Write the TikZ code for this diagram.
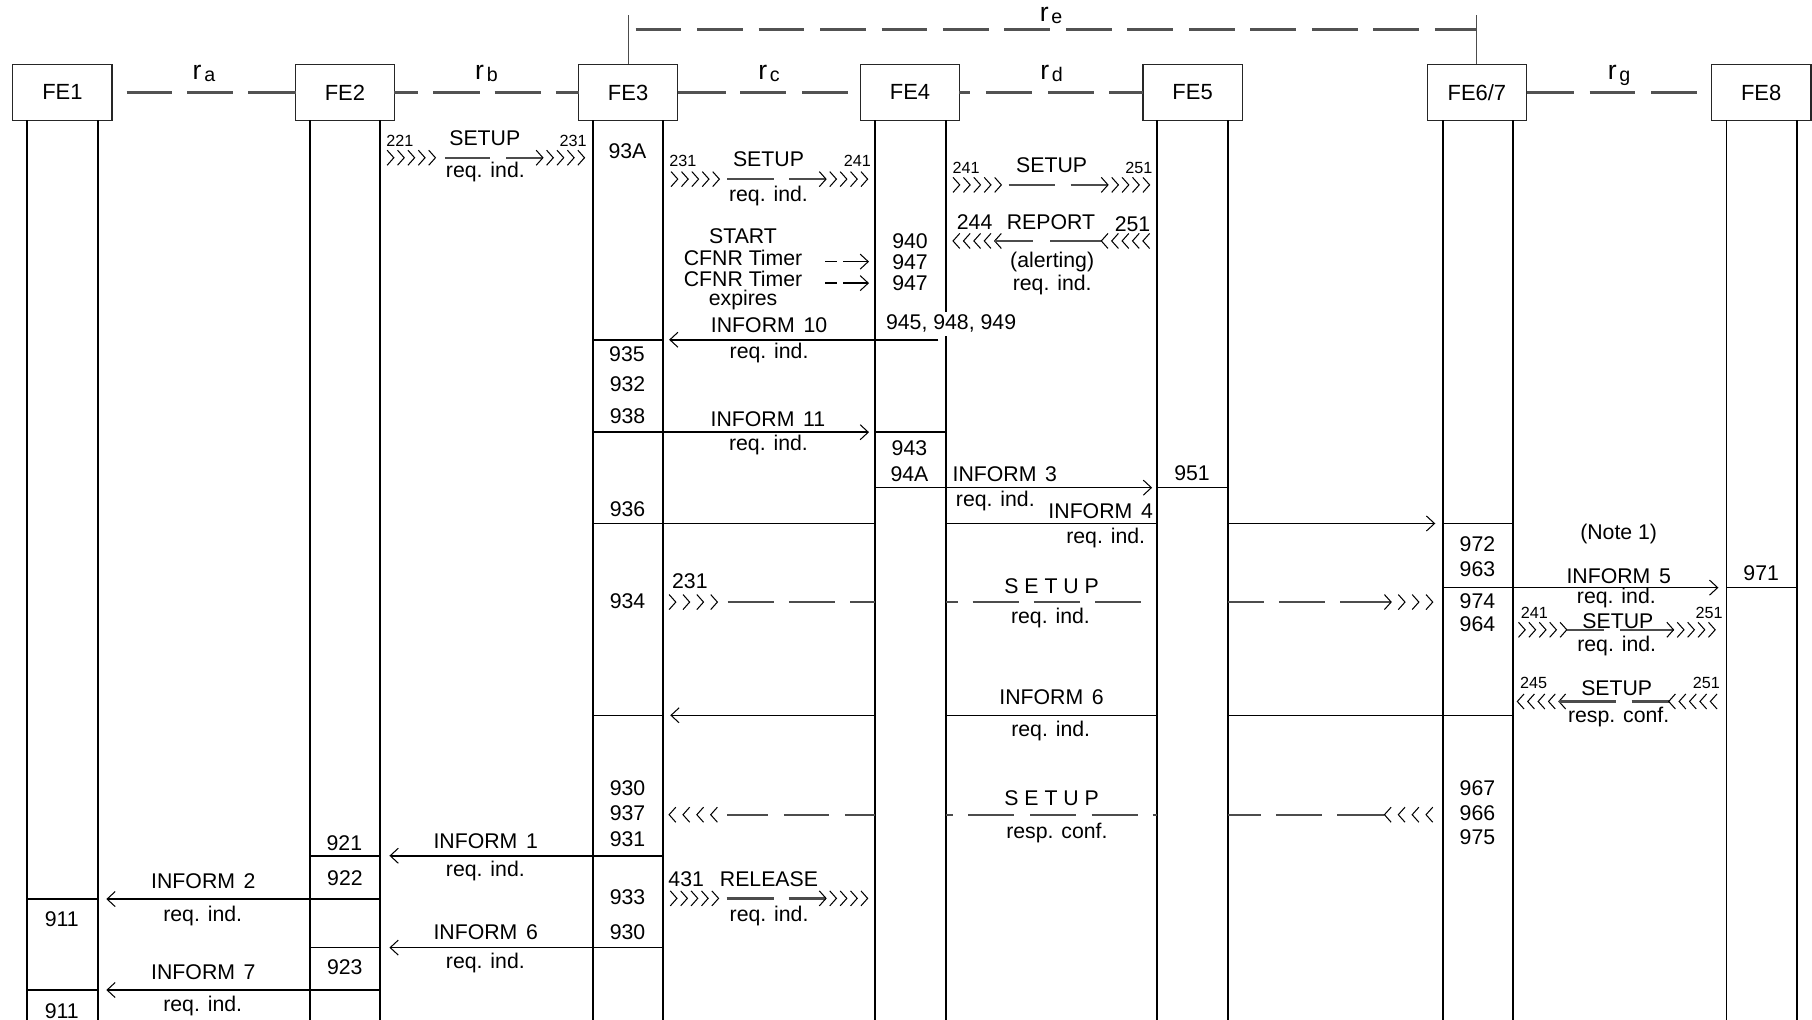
\documentclass[tikz,border=0pt]{standalone}
\usepackage{fontspec}
\setmainfont{Liberation Sans}
\usetikzlibrary{arrows.meta}
\newcommand\fnorm{\fontsize{9.2}{10}\selectfont}
\newcommand\fhead{\fontsize{9.5}{11}\selectfont}
\newcommand\fsm{\fontsize{7}{8}\selectfont}
\newcommand\rlab[1]{{\fontsize{11.5}{12}\selectfont r}\kern1.2pt\raisebox{-1pt}{\fontsize{8.5}{9}\selectfont #1}}
\newcommand\infm[1]{INFORM\kern1.2pt\ #1}
\newcommand\chevR[4]{\foreach \ii in {1,...,#3}{\draw[chev] ({#1+(\ii-1)*#4},{#2-6.5}) -- ({#1+(\ii-1)*#4+5.8},#2) -- ({#1+(\ii-1)*#4},{#2+6.5});}}
\newcommand\chevL[4]{\foreach \ii in {1,...,#3}{\draw[chev] ({#1+(\ii-1)*#4+5.8},{#2-6.5}) -- ({#1+(\ii-1)*#4},#2) -- ({#1+(\ii-1)*#4+5.8},{#2+6.5});}}
\newcommand\dsegs[3][dshm]{\foreach \pa/\pb in {#3}{\draw[#1] (\pa,#2) -- (\pb,#2);}}
\newcommand\colline[2]{\draw[hline] (L#1 |- 0,#2) -- (R#1 |- 0,#2);}
\newcommand\msgl[5][]{\coordinate (#2s) at (#3,#5); \coordinate (#2e) at (#4,#5); \draw[hline,#1] (#2s) -- (#2e);}
\begin{document}
\begin{tikzpicture}[x=0.5pt,y=-0.5pt,
 life/.style={line width=0.8pt},
 hline/.style={line width=0.7pt},
 dshi/.style={line width=1.3pt,draw=black!68},
 dshm/.style={line width=1.05pt,draw=black!70},
 chev/.style={line width=0.45pt},
 arr/.style={-{Straight Barb[length=3.5pt,width=6.5pt,line width=0.45pt]}},
 thinl/.style={line width=0.45pt,draw=black!70},
 hdr/.style={draw=black!85,line width=0.55pt,minimum width=43pt,minimum height=24pt,inner sep=0pt,font=\fhead},
 lbl/.style={inner sep=0pt,anchor=base,font=\fnorm},
 sml/.style={inner sep=0pt,anchor=base,font=\fsm}]
\useasboundingbox (0,0) rectangle (1568,882);
% headers
\node[hdr] (fe1) at (54,80) {FE1};
\node[hdr] (fe2) at (298.5,80) {FE2};
\node[hdr] (fe3) at (543.5,80) {FE3};
\node[hdr] (fe4) at (787.5,80) {FE4};
\node[hdr] (fe5) at (1032,80) {FE5};
\node[hdr] (fe6) at (1278,80) {FE6/7};
\node[hdr] (fe8) at (1524,80) {FE8};
% lifelines
\foreach \n/\c in {1/54,2/298.5,3/543.5,4/788,5/1032,6/1279,8/1524.5}{\coordinate (L\n) at ({\c-30.5},104); \coordinate (R\n) at ({\c+30.5},104);}
\coordinate (bot) at (0,884);
\foreach \n in {1,2,3,4,5,6,8}{\draw[life] (L\n) -- (L\n |- bot); \draw[life] (R\n) -- (R\n |- bot);}
% interfaces
\dsegs[dshi]{80}{109.5/149,162/202,215/256}
\dsegs[dshi]{80}{341/362,375/415,428/468,481/501}
\dsegs[dshi]{80}{587/628,640.7/680,694.4/734}
\dsegs[dshi]{80}{830/839.5,853/893,907/947,960/989}
\dsegs[dshi]{80}{1321/1361.6,1375.6/1415,1428.7/1468.5}
\foreach \k in {0,...,12}{\draw[dshi] ({550+53.2*\k},25.4) -- ({589.5+53.2*\k},25.4);}
\draw[dshi] (1241.6,25.4) -- (1278.5,25.4);
\coordinate (reA) at (543.5,13); \coordinate (reB) at (1278,13);
\draw[thinl] (reA) -- (fe3.north); \draw[thinl] (reB) -- (fe6.north);
\node[lbl] (ra) at (176.5,68.7) {\rlab{a}};
\node[lbl] (rb) at (421,68.7) {\rlab{b}};
\node[lbl] (rc) at (665.5,68.7) {\rlab{c}};
\node[lbl] (rd) at (910,68.7) {\rlab{d}};
\node[lbl] (rg) at (1401,68.7) {\rlab{g}};
\node[lbl] (re) at (909.5,18.7) {\rlab{e}};
% M1 SETUP FE2->FE3
\chevR{335}{136.5}{5}{9}
\dsegs{136.5}{385/424,438/469.8}
\chevR{464}{136.5}{5}{9}
\node[sml] (m1a) at (346,127) {221};
\node[sml] (m1b) at (496,127) {231};
\node[lbl] (m1c) at (419.5,126) {SETUP};
\node[lbl] (m1d) at (420,154) {req. ind.};
% M2 SETUP FE3->FE4
\chevR{580.7}{155}{5}{9}
\dsegs{155}{629.4/670,682.8/714.8}
\chevR{709}{155}{5}{9}
\node[sml] (m2a) at (591,144.2) {231};
\node[sml] (m2b) at (742,144.2) {241};
\node[lbl] (m2c) at (665,143.7) {SETUP};
\node[lbl] (m2d) at (665,174.3) {req. ind.};
% M3 SETUP FE4->FE5
\chevR{824.7}{160}{5}{9}
\dsegs{160}{872.7/912.7,926.4/958.8}
\chevR{953}{160}{5}{9}
\node[sml] (m3a) at (836,150) {241};
\node[sml] (m3b) at (985.5,150) {251};
\node[lbl] (m3c) at (910,149.4) {SETUP};
% M4 REPORT FE5->FE4
\chevL{824.7}{208.5}{5}{9}
\dsegs{208.5}{860.7/894,908.6/953}
\chevL{953}{208.5}{5}{9}
\node[lbl] (m4a) at (843.4,199) {244};
\node[lbl] (m4b) at (909.4,199) {REPORT};
\node[lbl] (m4c) at (980,200.5) {251};
\node[lbl] (m4d) at (910.5,231.5) {(alerting)};
\node[lbl] (m4e) at (910.5,251) {req. ind.};
% timer
\node[lbl] (tm1) at (643,211) {START};
\node[lbl] (tm2) at (643,229.5) {CFNR Timer};
\node[lbl] (tm3) at (643,247.5) {CFNR Timer};
\node[lbl] (tm4) at (643,264) {expires};
\msgl{ta}{714.3}{724.5}{226.4}
\msgl[arr]{tb}{729.7}{752}{226.4}
\msgl{tc}{714.3}{724.5}{245}
\msgl[arr]{td}{729.7}{752}{245}
\node[lbl] (n940) at (787.5,215) {940};
\node[lbl] (n947a) at (787.5,233.6) {947};
\node[lbl] (n947b) at (787.5,251) {947};
\node[lbl,fill=white,inner xsep=1pt,inner ysep=1.5pt] (n945) at (823,285.5) {945, 948, 949};
% INFORM 10
\colline{3}{294}
\msgl[arr]{i10}{812}{579}{294}
\node[lbl] (i10t) at (665.5,288) {\infm{10}};
\node[lbl] (i10r) at (665.5,310) {req. ind.};
\node[lbl] (n93A) at (543,137) {93A};
\node[lbl] (n935) at (542.5,313) {935};
\node[lbl] (n932) at (543,339) {932};
\node[lbl] (n938) at (543,366.3) {938};
% INFORM 11
\colline{3}{374}
\msgl[arr]{i11}{574}{752}{374}
\colline{4}{374}
\node[lbl] (i11t) at (664.5,369) {\infm{11}};
\node[lbl] (i11r) at (665,389.5) {req. ind.};
\node[lbl] (n943) at (787,394) {943};
\node[lbl] (n94A) at (787,416.8) {94A};
% INFORM 3
\colline{4}{422}
\msgl[arr]{i3}{819}{997}{422}
\colline{5}{422}
\node[lbl,anchor=base west] (i3t) at (824,416.8) {\infm{3}};
\node[lbl] (i3r) at (861.3,438.5) {req. ind.};
\node[lbl] (n951) at (1031.5,415.4) {951};
% INFORM 4
\msgl{i4a}{513}{757.5}{453}
\msgl{i4b}{819}{1001.5}{453}
\msgl[arr]{i4c}{1062.5}{1242}{453}
\colline{6}{453}
\node[lbl,anchor=base east] (i4t) at (998,448.5) {\infm{4}};
\node[lbl] (i4r) at (956.8,470) {req. ind.};
\node[lbl] (n936) at (543,447) {936};
% INFORM 5
\colline{6}{508.5}
\msgl[arr]{i5}{1309.5}{1487}{508.5}
\colline{8}{508.5}
\node[lbl] (note) at (1400.7,467) {(Note 1)};
\node[lbl] (i5t) at (1400.7,504.6) {\infm{5}};
\node[lbl] (i5r) at (1398.7,522) {req. ind.};
\node[lbl] (n972) at (1278.5,477.4) {972};
\node[lbl] (n963) at (1278.5,499) {963};
\node[lbl] (n974) at (1278.5,526.4) {974};
\node[lbl] (n964) at (1278.5,546.6) {964};
\node[lbl] (n971) at (1524,502) {971};
% long SETUP req. ind.
\chevR{579}{521}{4}{12}
\dsegs{521}{629.7/669.7,682.7/722.7,735.7/757.5,819/828.7,841.7/881.7,894.7/934.7,947.7/987.7,1062.5/1093.7,1106.7/1146.7,1159.7/1203.8}
\chevR{1198}{521}{4}{12}
\node[lbl] (m11a) at (597,509) {231};
\node[lbl] (m11b) at (910,513.4) {S E T U P};
\node[lbl] (m11c) at (909,539.5) {req. ind.};
\node[lbl] (n934) at (543,526.4) {934};
% SETUP FE6/7->FE8
\chevR{1314}{545}{5}{9}
\dsegs{545}{1355.8/1388,1401.7/1448.2}
\chevR{1442.4}{545}{5}{9}
\node[sml] (m12a) at (1327.7,535) {241};
\node[sml] (m12b) at (1479,535) {251};
\node[lbl] (m12c) at (1400,543.7) {SETUP};
\node[lbl] (m12d) at (1399,564) {req. ind.};
% SETUP FE8->FE6/7
\chevL{1313}{607}{5}{9}
\dsegs{607}{1349/1398,1411.8/1444}
\chevL{1444}{607}{5}{9}
\node[sml] (m13a) at (1327,596) {245};
\node[sml] (m13b) at (1476.5,596) {251};
\node[lbl] (m13c) at (1399,602) {SETUP};
\node[lbl] (m13d) at (1400.7,625.5) {resp. conf.};
% INFORM 6
\colline{3}{619}
\msgl{i6a}{1309.5}{1062.5}{619}
\msgl{i6b}{1001.5}{819}{619}
\msgl[arr]{i6c}{757.5}{580}{619}
\node[lbl] (i6t) at (910,610) {\infm{6}};
\node[lbl] (i6r) at (909.2,637.5) {req. ind.};
% long SETUP resp. conf.
\chevL{579}{705}{4}{12}
\dsegs{705}{629.4/664.6,678.4/717.6,731/757.5,819/824.4,838/877.8,891.5/931,944.6/984.6,997.6/1001.5,1062.5/1091,1104/1143.6,1157.2/1198}
\chevL{1198}{705}{4}{12}
\node[lbl] (m14a) at (910,696.6) {S E T U P};
\node[lbl] (m14b) at (914.6,725.4) {resp. conf.};
\node[lbl] (n930a) at (543,688) {930};
\node[lbl] (n937) at (543,709.6) {937};
\node[lbl] (n931) at (543,732.7) {931};
\node[lbl] (n967) at (1278.5,688) {967};
\node[lbl] (n966) at (1278.5,709.6) {966};
\node[lbl] (n975) at (1278.5,731.2) {975};
% INFORM 1
\colline{3}{740.5}
\msgl[arr]{i1}{513}{337}{740.5}
\colline{2}{740.5}
\node[lbl] (i1t) at (420.3,734) {\infm{1}};
\node[lbl] (i1r) at (420,758.5) {req. ind.};
\node[lbl] (n921) at (298,735.6) {921};
% RELEASE
\chevR{580}{777.4}{5}{9}
\dsegs{777.4}{628.7/670,682.4/714.8}
\chevR{709}{777.4}{5}{9}
\node[lbl] (m15a) at (593.8,767.3) {431};
\node[lbl] (m15b) at (665.4,767) {RELEASE};
\node[lbl] (m15c) at (665.5,797.5) {req. ind.};
\node[lbl] (n933) at (543,783) {933};
\node[lbl] (n930b) at (543,813.4) {930};
% INFORM 2
\colline{2}{778}
\msgl[arr]{i2}{268}{92}{778}
\colline{1}{778}
\node[lbl] (i2t) at (176,768.7) {\infm{2}};
\node[lbl] (i2r) at (175.4,797.5) {req. ind.};
\node[lbl] (n922) at (298.5,766) {922};
\node[lbl] (n911a) at (53.5,802) {911};
% INFORM 6 (second)
\colline{3}{820}
\msgl[arr]{i6d}{513}{337}{820}
\colline{2}{820}
\node[lbl] (i6u) at (420.3,813.4) {\infm{6}};
\node[lbl] (i6v) at (420,838) {req. ind.};
\node[lbl] (n923) at (298.4,843.7) {923};
% INFORM 7
\colline{2}{856.7}
\msgl[arr]{i7}{268}{92}{856.7}
\colline{1}{856.7}
\node[lbl] (i7t) at (176,848) {\infm{7}};
\node[lbl] (i7r) at (175.4,875) {req. ind.};
\node[lbl] (n911b) at (53.5,881) {911};
\end{tikzpicture}
\end{document}
